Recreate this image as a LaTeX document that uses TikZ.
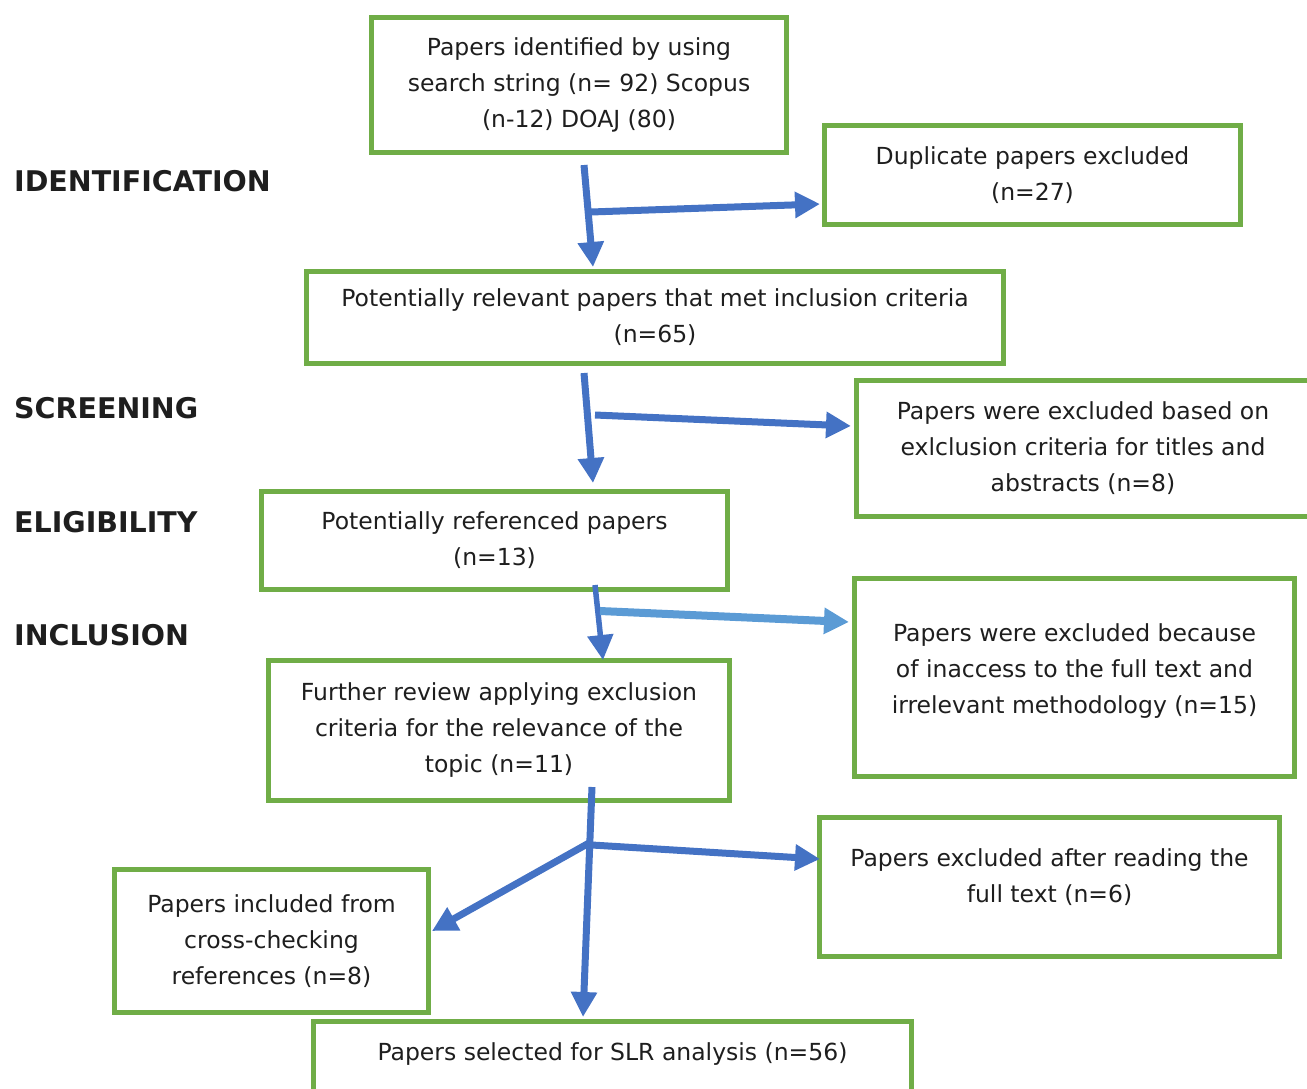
\documentclass[tikz,border=0pt]{standalone}
\usepackage{fontspec}
\setmainfont{DejaVu Sans}
\usetikzlibrary{arrows.meta}
\definecolor{boxgreen}{HTML}{70AD47}
\definecolor{flowblue}{HTML}{4472C4}
\definecolor{lightflow}{HTML}{5B9BD5}
\definecolor{ink}{HTML}{1E1E1E}
\begin{document}
\begin{tikzpicture}[x=1pt,y=-1pt,
        box/.style={draw=boxgreen,line width=5pt,align=center,inner sep=0pt,text=ink,
            font=\fontsize{23.5}{36}\selectfont},
        phase/.style={anchor=west,inner sep=0pt,text=ink,font=\fontsize{28.5}{32}\selectfont\bfseries},
        flow/.style={draw=flowblue,line width=7pt,-{Triangle[length=25pt,width=25pt]}}]
        \useasboundingbox (0,0) rectangle (1307,1088);

        \node[phase] (ident) at (14,181) {IDENTIFICATION};
        \node[phase] (screen) at (14,408) {SCREENING};
        \node[phase] (elig) at (14,522) {ELIGIBILITY};
        \node[phase] (incl) at (14,635) {INCLUSION};

        \node[box,minimum width=415pt,minimum height=135pt] (found) at (579,85)
            {Papers identified by using\\search string (n= 92) Scopus\\(n-12) DOAJ (80)};
        \node[box,minimum width=416pt,minimum height=99pt] (dupl) at (1032.5,175)
            {Duplicate papers excluded\\(n=27)};
        \node[box,minimum width=697pt,minimum height=92pt] (relev) at (655,317.5)
            {Potentially relevant papers that met inclusion criteria\\(n=65)};
        \node[box,minimum width=453pt,minimum height=136pt] (abstr) at (1083,448.5)
            {Papers were excluded based on\\exlclusion criteria for titles and\\abstracts (n=8)};
        \node[box,minimum width=466pt,minimum height=98pt] (refd) at (494.5,540.5)
            {Potentially referenced papers\\(n=13)};
        \node[box,minimum width=440pt,minimum height=198pt] (inacc) at (1074.5,677.5)
            {Papers were excluded because\\of inaccess to the full text and\\irrelevant methodology (n=15)\\[-18pt]\mbox{}};
        \node[box,minimum width=461pt,minimum height=140pt] (review) at (499,730.5)
            {Further review applying exclusion\\criteria for the relevance of the\\topic (n=11)};
        \node[box,minimum width=460pt,minimum height=139pt] (fulltxt) at (1049.5,887)
            {Papers excluded after reading the\\full text (n=6)\\[-14pt]\mbox{}};
        \node[box,minimum width=314pt,minimum height=143pt] (cross) at (271.5,941)
            {Papers included from\\cross-checking\\references (n=8)};
        \node[box,minimum width=598pt,minimum height=80pt] (slr) at (612.5,1061.5)
            {Papers selected for SLR analysis (n=56)\\[-16pt]\mbox{}};

        \coordinate (idtop) at (584,165);
        \coordinate (idsplit) at (591,212);
        \coordinate (scrtop) at (584,373);
        \coordinate (scrsplit) at (595,415);
        \coordinate (eltop) at (595,585);
        \coordinate (elsplit) at (600,611);
        \coordinate (intop) at (592,787);
        \coordinate (insplit) at (589,843);

        \draw[flow] (idtop) -- (593,267);
        \draw[flow] (idsplit) -- (820,204);
        \draw[flow] (scrtop) -- (593,483);
        \draw[flow] (scrsplit) -- (851,426);
        \draw[flow,line width=5.5pt] (eltop) -- (603,660);
        \draw[flow,draw=lightflow,line width=8pt] (elsplit) -- (849,622);
        \draw[flow] (intop) -- (583,1017);
        \draw[flow] (insplit) -- (432,931);
        \draw[flow] (insplit) ++(3,2) -- (820,859);
    \end{tikzpicture}
\end{document}
